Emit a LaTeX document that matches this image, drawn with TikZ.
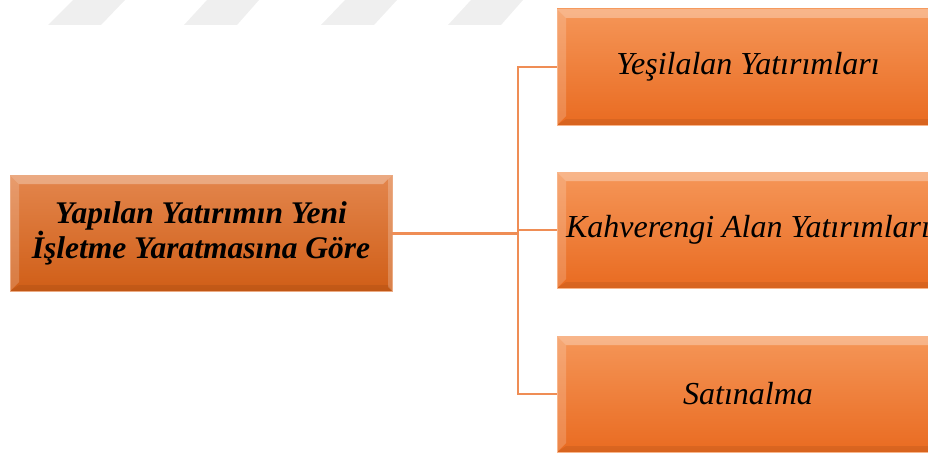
\documentclass[tikz,border=0pt]{standalone}
\usepackage{fontspec}
\setmainfont{Liberation Serif}
\usetikzlibrary{positioning, calc}
\definecolor{ortop}{HTML}{F59658}
\definecolor{orbot}{HTML}{E96B21}
\definecolor{rusttop}{HTML}{E3864D}
\definecolor{rustbot}{HTML}{D05E17}
\definecolor{orline}{HTML}{EF8D55}
\definecolor{wmgray}{HTML}{EFEFEF}

\begin{document}
\begin{tikzpicture}[x=1pt, y=-1pt,
    bevelbox/.style={minimum width=382pt, minimum height=116pt, inner sep=0pt,
      align=center, draw=#1, line width=0.6pt,
      path picture={
        \coordinate (bnw) at (path picture bounding box.north west);
        \coordinate (bne) at (path picture bounding box.north east);
        \coordinate (bsw) at (path picture bounding box.south west);
        \coordinate (bse) at (path picture bounding box.south east);
        \fill[white, opacity=.30] (bnw) -- (bne) -- ($(bne)+(-9,9)$) -- ($(bnw)+(9,9)$) -- cycle;
        \fill[white, opacity=.18] (bnw) -- ($(bnw)+(9,9)$) -- ($(bsw)+(9,-9)$) -- (bsw) -- cycle;
        \fill[white, opacity=.22] (bne) -- ($(bne)+(-4,4)$) -- ($(bse)+(-4,-4)$) -- (bse) -- cycle;
        \fill[black, opacity=.07] (bsw) -- ($(bsw)+(9,-6)$) -- ($(bse)+(-4,-6)$) -- (bse) -- cycle;
      }},
    mainbox/.style={bevelbox=rusttop!70!white, top color=rusttop, bottom color=rustbot,
      font=\fontsize{31.5}{32}\selectfont\bfseries\itshape},
    subbox/.style={bevelbox=ortop!70!white, top color=ortop, bottom color=orbot,
      font=\fontsize{32}{36}\selectfont\itshape},
    link/.style={orline, line width=2pt}]
  \useasboundingbox (0,0) rectangle (928,452);
  % faint watermark stripes
  \foreach \a/\b in {48/73, 184/207, 321/345, 448/471}
    \fill[wmgray] (\a,25) -- (\a+53,25) -- (\b+52,0) -- (\b,0) -- cycle;
  % boxes
  \node[mainbox] (lft) at (201,233) {Yapılan Yatırımın Yeni\\İşletme Yaratmasına Göre};
  \node[subbox] (yesil) at (748,67) {Yeşilalan Yatırımları};
  \node[subbox] (kahve) at (748,230) {Kahverengi Alan Yatırımları};
  \node[subbox] (satin) at (748,394) {Satınalma};
  % connectors
  \coordinate (bus) at (518,233);
  \draw[link, line width=3pt] (lft.east) -- (bus);
  \draw[link] (yesil.west) -- (yesil.west -| bus) -- (satin.west -| bus) -- (satin.west);
  \draw[link] (kahve.west) -- (kahve.west -| bus);
\end{tikzpicture}
\end{document}
